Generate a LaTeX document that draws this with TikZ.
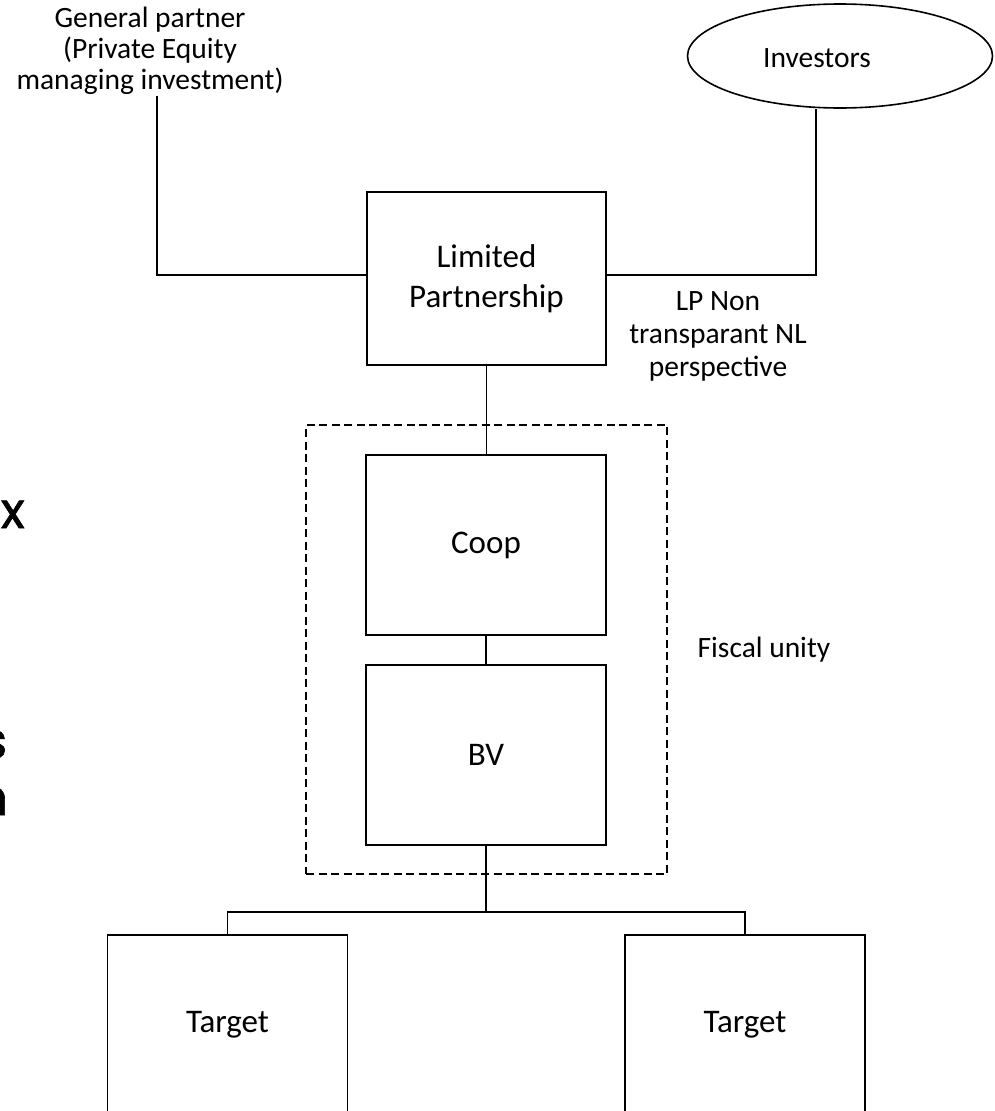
\documentclass[tikz,border=0pt]{standalone}
\usepackage{fontspec}
\setmainfont{Carlito}
\newfontfamily\slidefont{Poppins}[FakeBold=1.2]
\usetikzlibrary{shapes.geometric}
\begin{document}
\begin{tikzpicture}[x=1pt, y=-1pt, line width=1.6pt,
  entity/.style={draw, minimum width=240pt, minimum height=180pt, inner sep=0pt,
    align=center, font=\fontsize{33}{40}\selectfont},
  note/.style={align=center, inner sep=0pt, font=\fontsize{29.5}{33}\selectfont},
  fiscal/.style={draw, dash pattern=on 8pt off 4.5pt, minimum width=361pt,
    minimum height=449pt, inner sep=0pt},
  fragment/.style={inner sep=0pt, font=\slidefont\fontsize{50}{58}\selectfont}
]
\useasboundingbox (0,0) rectangle (994,1111);

% ownership structure
\node[note, font=\fontsize{29.5}{31}\selectfont] (gp) at (150,51) {General partner\\(Private Equity\\managing investment)};
\node[draw, ellipse, minimum width=305pt, minimum height=104pt, inner sep=0pt] (inv) at (840,56) {};
\node[note] (invlbl) at (817,58) {Investors};
\node[entity, minimum width=239pt, minimum height=173pt] (lp) at (486.5,278.5) {Limited\\Partnership};
\node[note] (lpnote) at (718,336) {LP Non\\transparant NL\\perspective};
\node[fiscal] (unity) at (486.5,649.5) {};
\node[entity] (coop) at (486,545) {Coop};
\node[entity] (bv) at (486,755) {BV};
\node[note] (unitylbl) at (764,650) {Fiscal unity};
\node[entity] (t1) at (227.5,1025) {Target};
\node[entity] (t2) at (745,1025) {Target};

% text running in from the left edge of the slide
\node[fragment, anchor=base west] (fx) at (0,528) {x};
\node[fragment, anchor=base east] (fs) at (8,758) {s};
\node[fragment, anchor=base east] (fn) at (9,815) {n};

% connectors
\coordinate (gpx) at (157,275);
\coordinate (invx) at (816,275);
\coordinate (split) at (486,912);

\draw (gp.south -| gpx) -- (gpx) -- (gpx -| lp.west);
\draw (inv.south -| invx) -- (invx) -- (invx -| lp.east);
\draw (lp.south) -- (lp.south |- coop.north);
\draw (coop.south) -- (bv.north);
\draw (bv.south) -- (split);
\draw (t1.north) |- (split) -| (t2.north);
\end{tikzpicture}
\end{document}
